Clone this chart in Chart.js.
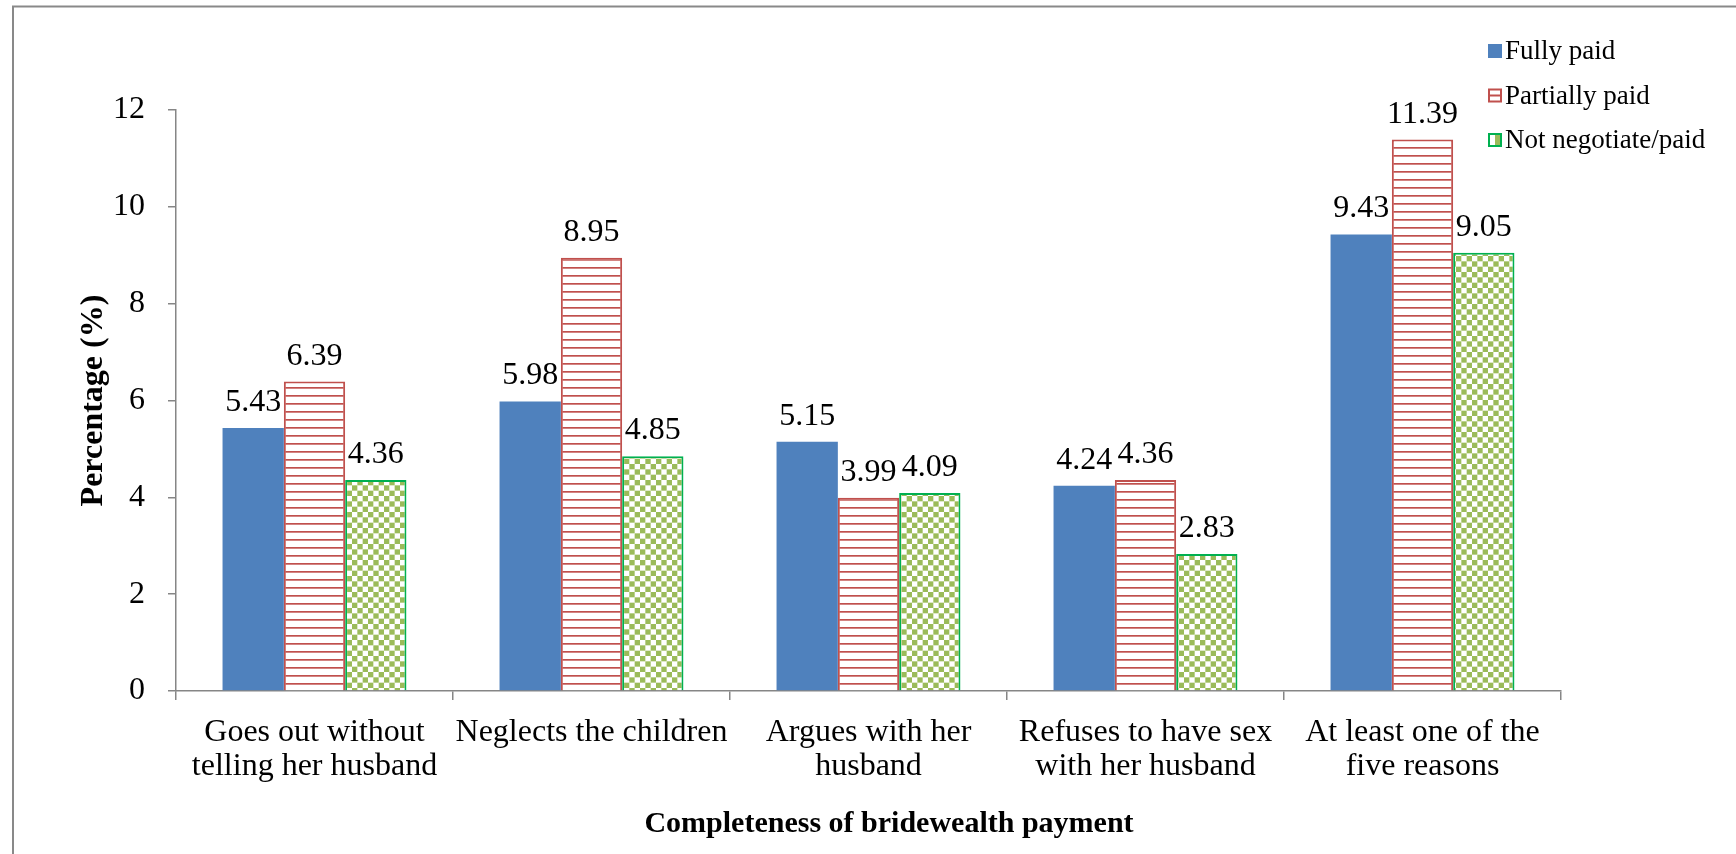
<!DOCTYPE html>
<html>
<head>
<meta charset="utf-8">
<script src="https://cdn.jsdelivr.net/npm/chart.js@4.4.1/dist/chart.umd.min.js"></script>
<style>
  html, body { margin: 0; padding: 0; background: #ffffff; }
  #wrap { width: 1736px; height: 854px; position: relative; }
  canvas { display: block; }
</style>
</head>
<body>
<div id="wrap"><canvas id="chart" width="1736" height="854"></canvas></div>
<script>
// ---- data ----
const categories = [
  ["Goes out without", "telling her husband"],
  ["Neglects the children"],
  ["Argues with her", "husband"],
  ["Refuses to have sex", "with her husband"],
  ["At least one of the", "five reasons"]
];
const seriesNames = ["Fully paid", "Partially paid", "Not negotiate/paid"];
const fullyPaid = [5.43, 5.98, 5.15, 4.24, 9.43];
const partiallyPaid = [6.39, 8.95, 3.99, 4.36, 11.39];
const notNegotiatedPaid = [4.36, 4.85, 4.09, 2.83, 9.05];
const yTickValues = [0, 2, 4, 6, 8, 10, 12];
const yAxisTitle = "Percentage (%)";
const xAxisTitle = "Completeness of bridewealth payment";

// ---- styling ----
const FONT = "'Liberation Serif', 'Times New Roman', serif";
const AXIS = "#868686";
const BLUE = "#4F81BD";
const RED = "#C0504D";
const OLIVE = "#9BBB59";
const GREEN_EDGE = "#00B050";

const canvas = document.getElementById("chart");
const ctx = canvas.getContext("2d");

function makeStripePattern() {
  const t = document.createElement("canvas");
  t.width = 8; t.height = 8;
  const g = t.getContext("2d");
  g.fillStyle = "#ffffff";
  g.fillRect(0, 0, 8, 8);
  g.fillStyle = RED;
  g.fillRect(0, 3, 8, 1.7);
  return ctx.createPattern(t, "repeat");
}

function makeCheckerPattern() {
  const t = document.createElement("canvas");
  t.width = 32; t.height = 32;
  const g = t.getContext("2d");
  g.fillStyle = "#ffffff";
  g.fillRect(0, 0, 32, 32);
  g.fillStyle = OLIVE;
  const c = 32 / 6;
  for (let r = 0; r < 6; r++) {
    for (let k = 0; k < 6; k++) {
      if ((r + k) % 2 === 1) g.fillRect(k * c, r * c, c, c);
    }
  }
  return ctx.createPattern(t, "repeat");
}

const stripe = makeStripePattern();
const checker = makeCheckerPattern();

// outer frame lines (left and top)
const framePlugin = {
  id: "frame",
  beforeDraw(chart) {
    const c = chart.ctx;
    c.save();
    c.strokeStyle = "#898989";
    c.lineWidth = 2;
    c.beginPath();
    c.moveTo(13, 854);
    c.lineTo(13, 6.5);
    c.lineTo(1736, 6.5);
    c.stroke();
    c.restore();
  }
};

// value labels above each bar
const valueLabelPlugin = {
  id: "valueLabels",
  afterDatasetsDraw(chart) {
    const c = chart.ctx;
    c.save();
    c.font = "32px " + FONT;
    c.fillStyle = "#000000";
    c.textAlign = "center";
    c.textBaseline = "alphabetic";
    chart.data.datasets.forEach((ds, i) => {
      const meta = chart.getDatasetMeta(i);
      meta.data.forEach((bar, j) => {
        c.fillText(ds.data[j].toFixed(2), bar.x, bar.y - 17);
      });
    });
    c.restore();
  }
};

// legend block at the top right and the x-axis title
const legendPlugin = {
  id: "sideLegend",
  afterDraw(chart) {
    const c = chart.ctx;
    c.save();
    const x0 = 1488, size = 14, textX = 1505;
    const baselines = [59, 103.5, 148];
    c.font = "27px " + FONT;
    c.fillStyle = "#000000";
    c.textAlign = "left";
    c.textBaseline = "alphabetic";
    chart.data.datasets.forEach((ds, i) => {
      const yb = baselines[i];
      const top = yb - 1 - size;
      if (i === 0) {
        c.fillStyle = BLUE;
        c.fillRect(x0, top, size, size);
      } else if (i === 1) {
        c.fillStyle = "#ffffff";
        c.fillRect(x0, top, size, size);
        c.strokeStyle = RED;
        c.lineWidth = 2;
        c.strokeRect(x0 + 1, top + 1, size - 2, size - 2);
        c.beginPath();
        c.moveTo(x0 + 1, top + size / 2);
        c.lineTo(x0 + size - 1, top + size / 2);
        c.stroke();
      } else {
        c.fillStyle = "#ffffff";
        c.fillRect(x0, top, size, size);
        c.fillStyle = OLIVE;
        c.fillRect(x0 + size / 2, top + size / 2, size / 2, size / 2);
        c.fillRect(x0 + size / 2, top + 2, size / 2 - 2, size / 2 - 2);
        c.strokeStyle = GREEN_EDGE;
        c.lineWidth = 2;
        c.strokeRect(x0 + 1, top + 1, size - 2, size - 2);
      }
      c.fillStyle = "#000000";
      c.fillText(ds.label, textX, yb);
    });
    // x-axis title
    c.font = "bold 30px " + FONT;
    c.textAlign = "center";
    c.fillText(xAxisTitle, 889, 832);
    c.restore();
  }
};

new Chart(ctx, {
  type: "bar",
  data: {
    labels: categories,
    datasets: [
      { label: seriesNames[0], data: fullyPaid, backgroundColor: BLUE, borderWidth: 0 },
      { label: seriesNames[1], data: partiallyPaid, backgroundColor: stripe, borderColor: RED, borderWidth: 2 },
      { label: seriesNames[2], data: notNegotiatedPaid, backgroundColor: checker, borderColor: GREEN_EDGE, borderWidth: 2 }
    ]
  },
  options: {
    responsive: false,
    animation: false,
    devicePixelRatio: 1,
    datasets: { bar: { categoryPercentage: 0.664, barPercentage: 1.0 } },
    layout: { padding: { left: 0, right: 175, top: 110, bottom: 0 } },
    plugins: { legend: { display: false }, tooltip: { enabled: false }, title: { display: false } },
    scales: {
      x: {
        offset: true,
        grid: { display: true, offset: true, drawOnChartArea: false, drawTicks: true, tickLength: 9, color: AXIS, lineWidth: 1.5 },
        border: { display: true, color: AXIS, width: 1.5 },
        ticks: { color: "#000000", font: { family: FONT, size: 32, lineHeight: 34 / 32 }, padding: 16, maxRotation: 0, autoSkip: false },
        afterFit(scale) { scale.height = 163; }
      },
      y: {
        min: 0,
        max: 12,
        afterBuildTicks(scale) { scale.ticks = yTickValues.map(v => ({ value: v })); },
        grid: { display: true, drawOnChartArea: false, drawTicks: true, tickLength: 8, color: AXIS, lineWidth: 1.5 },
        border: { display: true, color: AXIS, width: 1.5 },
        ticks: { color: "#000000", font: { family: FONT, size: 32 }, padding: 23 },
        title: { display: true, text: yAxisTitle, color: "#000000", font: { family: FONT, size: 32, weight: "bold" }, padding: { top: 75, bottom: 0 } },
        afterFit(scale) { scale.width = 176; }
      }
    }
  },
  plugins: [framePlugin, valueLabelPlugin, legendPlugin]
});
</script>
</body>
</html>
